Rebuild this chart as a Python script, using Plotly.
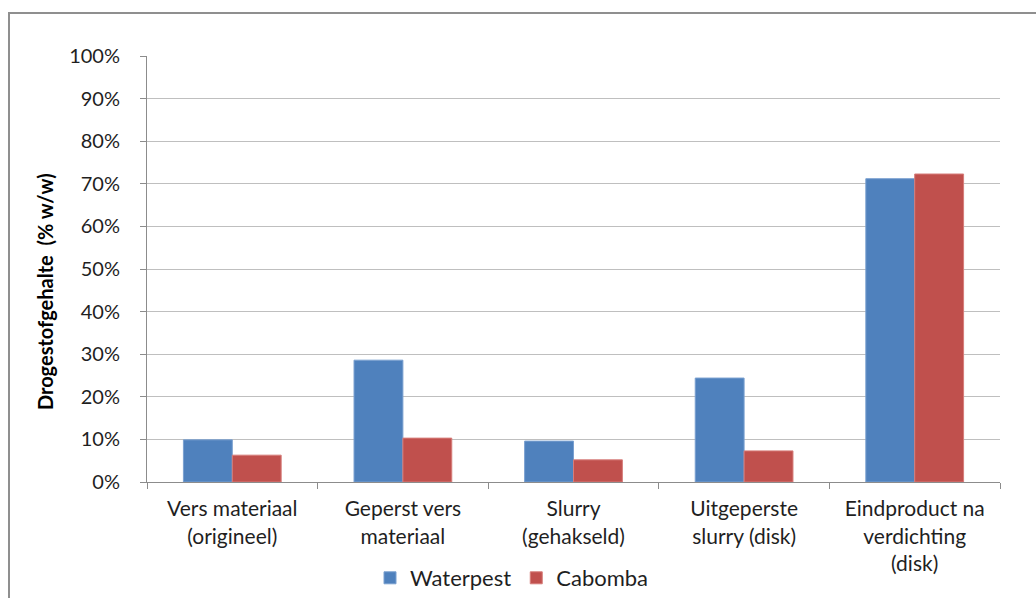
import plotly.graph_objects as go

# Dry-matter content per processing step
categories = [
    "Vers materiaal<br>(origineel)",
    "Geperst vers<br>materiaal",
    "Slurry<br>(gehakseld)",
    "Uitgeperste<br>slurry (disk)",
    "Eindproduct na<br>verdichting<br>(disk)",
]
waterpest = [9.9, 28.6, 9.6, 24.4, 71.2]
cabomba = [6.3, 10.3, 5.2, 7.3, 72.3]
y_ticks = [0, 10, 20, 30, 40, 50, 60, 70, 80, 90, 100]
y_tick_labels = [f"{v}%" for v in y_ticks]

FONT = "Lato, 'Open Sans', sans-serif"
TEXT = "#1f1f1f"

fig = go.Figure()
fig.add_trace(go.Bar(name="Waterpest", x=categories, y=waterpest,
                     marker=dict(color="#4F81BD", line=dict(color="#7aa0d0", width=1))))
fig.add_trace(go.Bar(name="Cabomba", x=categories, y=cabomba,
                     marker=dict(color="#C0504D", line=dict(color="#d67d7a", width=1))))

# plot area: x 147..1000, y 56..482 (px)
L, R, T, B = 147, 1036 - 1000, 56, 598 - 482
W, H = 1000 - 147, 482 - 56

def px_x(px):
    return (px - L) / W

def px_y(py):
    return (482 - py) / H

fig.update_layout(
    width=1036, height=598,
    margin=dict(l=L, r=R, t=T, b=B, autoexpand=False),
    paper_bgcolor="white", plot_bgcolor="white",
    barmode="group", bargap=0.427, bargroupgap=0,
    font=dict(family=FONT, size=20, color=TEXT),
    showlegend=True,
    legend=dict(orientation="h", x=px_x(512), xanchor="center",
                y=px_y(578), yanchor="middle",
                font=dict(size=22, color=TEXT),
                itemwidth=30, tracegroupgap=0, bgcolor="rgba(0,0,0,0)"),
    xaxis=dict(
        type="category", showgrid=False, showline=True,
        linecolor="#8c8c8c", linewidth=1,
        ticks="outside", ticklen=6, tickcolor="#8c8c8c", tickson="boundaries",
        tickfont=dict(size=21, color=TEXT), ticklabelstandoff=8,
        range=[-0.5, 4.5],
    ),
    yaxis=dict(
        range=[0, 100], tickvals=y_ticks, ticktext=y_tick_labels,
        showgrid=True, gridcolor="#bfbfbf", gridwidth=1,
        showline=True, linecolor="#8c8c8c", linewidth=1,
        ticks="outside", ticklen=6, tickcolor="#8c8c8c",
        tickfont=dict(size=20, color=TEXT), ticklabelstandoff=16,
        zeroline=False,
    ),
)

# y axis title
fig.add_annotation(
    text="<b>Drogestofgehalte  (% w/w)</b>",
    xref="paper", yref="paper", x=px_x(45), y=px_y(292),
    textangle=-90, showarrow=False,
    font=dict(family=FONT, size=20, color="#000000"),
    xanchor="center", yanchor="middle",
)

# chart frame
fig.add_shape(type="rect", xref="paper", yref="paper",
              x0=px_x(9), x1=px_x(1045), y0=px_y(620), y1=px_y(13),
              line=dict(color="#8f8f8f", width=2), fillcolor="rgba(0,0,0,0)",
              layer="below")

fig.write_html("out.html")
